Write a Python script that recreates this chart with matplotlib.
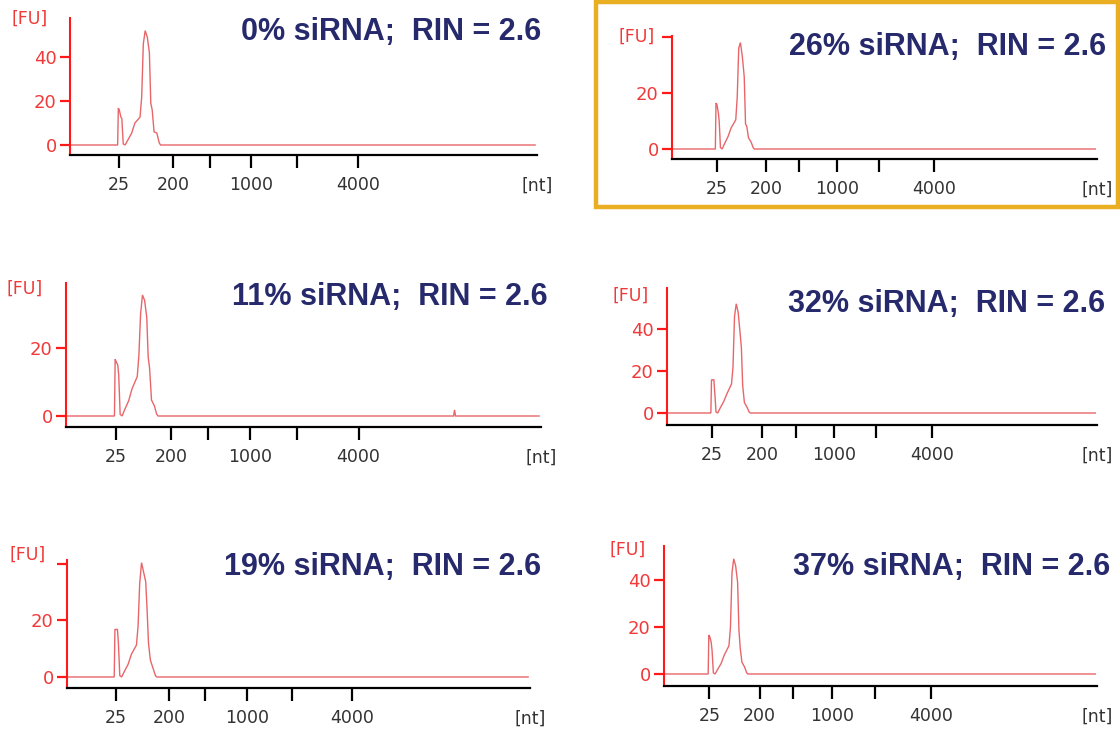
import matplotlib
matplotlib.use('Agg')
import matplotlib.pyplot as plt
from matplotlib.patches import Rectangle

W, H = 1120, 731

# ── Data ──────────────────────────────────────────────────────────────────────
# migration position (0 = start of run, 100 = end of run)
pos = [0, 10.2, 10.35, 10.55, 10.9, 11.1, 11.4, 11.8, 12.4, 13.2, 13.9, 15.0,
       15.35, 15.7, 16.1, 16.55, 17.0, 17.3, 17.6, 18.0, 18.6, 19.1, 19.4,
       81.6, 81.8, 82.0, 99.6]

# fluorescence [FU] for each sample
fu_0  = [0, 0, 16.8, 16.0, 12.7, 12.0, 0.5, 0, 2.3, 5.4, 10.0, 12.7,
         21.8, 46.0, 52.0, 49.0, 42.0, 19.0, 16.0, 6.0, 5.4, 1.0, 0, 0, 0, 0, 0]
fu_26 = [0, 0, 16.4, 16.0, 13.0, 10.0, 0.5, 0, 2.0, 4.5, 7.5, 10.4,
         18.6, 36.0, 38.0, 33.0, 25.7, 9.0, 8.0, 4.0, 2.5, 0.5, 0, 0, 0, 0, 0]
fu_11 = [0, 0, 16.7, 16.0, 15.0, 12.0, 0.5, 0, 2.0, 4.5, 8.0, 11.6,
         18.0, 30.0, 35.6, 34.0, 29.0, 17.4, 14.0, 4.7, 3.0, 0.5, 0, 0, 1.8, 0, 0]
fu_32 = [0, 0, 15.8, 15.8, 15.8, 10.0, 0.5, 0, 2.5, 5.5, 9.0, 13.8,
         22.0, 46.0, 52.0, 48.0, 38.0, 31.0, 13.0, 5.0, 2.8, 0.5, 0, 0, 0, 0, 0]
fu_19 = [0, 0, 16.8, 16.8, 16.8, 12.0, 0.5, 0, 2.0, 4.5, 8.0, 11.3,
         18.0, 33.0, 40.4, 37.0, 33.7, 23.7, 12.0, 6.0, 3.0, 0.5, 0, 0, 0, 0, 0]
fu_37 = [0, 0, 16.6, 16.0, 13.5, 10.0, 0.5, 0, 2.0, 4.5, 8.0, 12.0,
         20.0, 43.0, 49.0, 46.0, 39.0, 19.0, 11.0, 5.0, 3.0, 0.5, 0, 0, 0, 0, 0]

# ladder ticks on the x axis
ladder_pos    = [10.5, 22.1, 29.9, 38.8, 48.7, 61.6]
ladder_labels = ['25', '200', '', '1000', '', '4000']

sirna_pct = [0, 26, 11, 32, 19, 37]
rin       = [2.6, 2.6, 2.6, 2.6, 2.6, 2.6]
traces    = [fu_0, fu_26, fu_11, fu_32, fu_19, fu_37]

# ── Panel geometry (pixels) ───────────────────────────────────────────────────
# yx: y-axis x, xy: x-axis y, xe: x-axis end, yt: y-axis top, z: zero level,
# ppf: pixels per FU, ticks: y ticks, fu_tick: tick at top labelled [FU]
panels = [
    dict(yx=70,  xy=155, xe=537,  yt=18,  z=145, ppf=2.2,  ticks=[0, 20, 40], fu_tick=False,
         fu=(30, 19),   title=(541, 32)),
    dict(yx=672, xy=159, xe=1097, yt=36,  z=149, ppf=2.8,  ticks=[0, 20],     fu_tick=True,
         fu=(637, 37),  title=(1106, 47)),
    dict(yx=66,  xy=427, xe=541,  yt=283, z=416, ppf=3.4,  ticks=[0, 20],     fu_tick=False,
         fu=(25, 289),  title=(548, 297)),
    dict(yx=667, xy=425, xe=1097, yt=288, z=413, ppf=2.1,  ticks=[0, 20, 40], fu_tick=False,
         fu=(631, 296), title=(1105, 304)),
    dict(yx=67,  xy=688, xe=530,  yt=560, z=677, ppf=2.83, ticks=[0, 20],     fu_tick=True,
         fu=(28, 555),  title=(541, 567)),
    dict(yx=664, xy=686, xe=1097, yt=546, z=674, ppf=2.35, ticks=[0, 20, 40], fu_tick=False,
         fu=(628, 550), title=(1110, 567)),
]

RED   = '#ff1a1a'
TRACE = '#e8666a'
NAVY  = '#262a6c'
GREY  = '#333333'

plt.rcParams['font.family'] = 'DejaVu Sans'

fig = plt.figure(figsize=(W / 100, H / 100), dpi=100)


def fx(px):
    return px / W


def fy(py):
    return 1 - py / H


for p, y, pct, r in zip(panels, traces, sirna_pct, rin):
    ax = fig.add_axes([fx(p['yx']), fy(p['xy']),
                       (p['xe'] - p['yx']) / W, (p['xy'] - p['yt']) / H])
    ax.set_xlim(0, 100)
    ymin = -(p['xy'] - p['z']) / p['ppf']
    ymax = (p['z'] - p['yt']) / p['ppf']
    ax.set_ylim(ymin, ymax)
    ax.set_facecolor('none')

    ax.plot(pos, y, color=TRACE, lw=1.0, solid_joinstyle='miter')

    for s in ['top', 'right']:
        ax.spines[s].set_visible(False)
    ax.spines['left'].set_color(RED)
    ax.spines['left'].set_linewidth(1.5)
    ax.spines['bottom'].set_color('black')
    ax.spines['bottom'].set_linewidth(1.6)

    yt = list(p['ticks'])
    yl = [str(t) for t in yt]
    if p['fu_tick']:
        yt.append(40)
        yl.append('')
    ax.set_yticks(yt)
    ax.set_yticklabels(yl)
    ax.tick_params(axis='y', colors=RED, labelcolor='#f03a3a', length=7.5, width=1.6,
                   labelsize=13, pad=2)

    ax.set_xticks(ladder_pos)
    ax.set_xticklabels(ladder_labels)
    ax.tick_params(axis='x', colors='black', labelcolor=GREY, length=9.4, width=1.6,
                   labelsize=12.5, pad=6)

    fig.text(fx(p['fu'][0]), fy(p['fu'][1]), '[FU]', color='#f03a3a', fontsize=12.5,
             ha='center', va='center')
    fig.text(fx(p['xe']), fy(p['xy'] + 31), '[nt]', color=GREY, fontsize=12.5,
             ha='center', va='center')
    fig.text(fx(p['title'][0]), fy(p['title'][1]), f'{pct}% siRNA;  RIN = {r}',
             color=NAVY, fontsize=22, fontweight='bold', family='Liberation Sans',
             ha='right', va='center')

# highlight frame around the 26% sample
fig.patches.append(Rectangle((fx(596), fy(207)), (1118 - 596) / W, (207 - 2) / H,
                             transform=fig.transFigure, fill=False,
                             edgecolor='#e9ae22', linewidth=3.2))

fig.savefig('out.png', dpi=100)
